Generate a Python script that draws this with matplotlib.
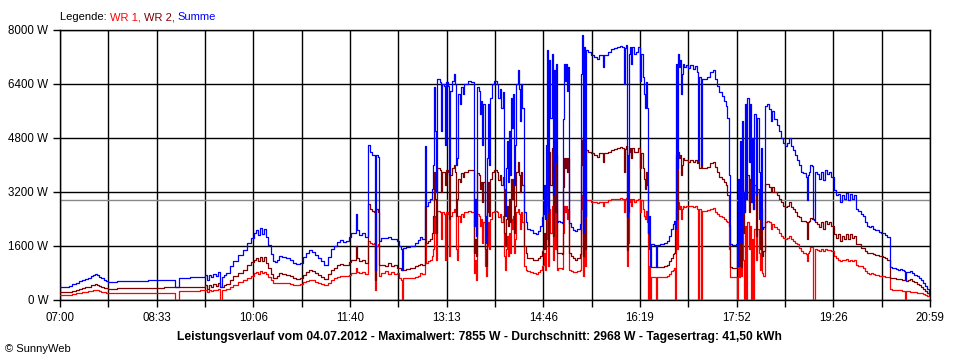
import matplotlib
matplotlib.use("Agg")
import matplotlib.pyplot as plt
import numpy as np

# minutes after 07:00
minutes = [
    0, 6, 9, 12, 15, 18, 21, 24, 27, 30,
    32, 34, 36, 38, 40, 42, 44, 46, 50, 55,
    60, 65, 70, 75, 80, 85, 90, 95, 100, 105,
    111, 115, 120, 125, 130, 135, 140,
    142, 144, 146, 148, 150, 152, 154, 156, 158, 160,
    164, 167, 172, 176, 180, 184, 187, 189, 191, 193,
    195, 197, 199, 201, 203, 205, 207, 209, 211, 214,
    218, 222, 225, 228, 231, 234, 237, 240,
    243, 246, 249, 252, 255, 258, 261, 264, 267, 270,
    273, 276, 279, 281, 284, 285, 286, 288, 291, 294,
    297, 299, 301, 303, 304, 305, 307, 308, 310, 313,
    316, 319, 322, 325, 327, 329, 330, 331, 334, 338,
    342, 345, 347, 349, 352, 353, 355, 357, 359, 360,
    361,
    362, 363, 364, 366, 367, 368, 370, 371, 372, 374,
    375, 376, 378, 380, 381, 382, 383, 384, 386, 387,
    389, 390, 393, 396, 399, 400, 401, 402, 404, 405,
    406, 407, 408, 410, 411, 412, 413, 414, 415, 417,
    419, 421, 422, 424, 425, 427, 428, 429, 430, 431,
    432, 433, 434, 435, 436, 437, 438, 439, 440, 442,
    443, 444, 445, 446, 447, 449, 450, 453, 456, 459,
    461, 463, 465, 466, 467, 468, 469, 470, 471, 472,
    473, 474, 475, 476, 477, 478, 479, 480,
    482, 484, 485, 486, 487, 488, 489, 490, 491, 493,
    495, 497, 499, 501, 502, 503, 504, 505, 506, 507,
    509, 512, 515, 518, 520, 523, 524, 525, 528, 531,
    534, 537, 540, 542, 544, 545, 546, 547, 548, 549,
    550, 551, 552, 554, 555, 557, 559, 560, 562, 563,
    564, 565, 566, 567, 568, 569, 570, 573, 575, 576,
    579, 582, 585, 587, 589, 591, 592, 593, 594, 595,
    596, 597, 598, 599, 600, 601, 602,
    604, 606, 608, 610, 612, 614, 615, 616, 618, 619,
    621, 624, 627, 630, 632, 634, 636, 638, 640, 642,
    643, 645, 646, 648, 650, 652, 653, 654, 655, 656,
    657, 658, 659, 660, 661, 662, 663, 664, 665, 666,
    667, 668, 669, 671, 672, 674, 675, 676, 677, 678,
    680, 682, 684, 686, 687, 689, 691, 693, 695, 697,
    699, 701, 703, 705, 707, 709, 711, 713, 715, 717,
    719, 720, 721, 722,
    723, 725, 726, 727, 728, 730, 732, 734, 736, 738,
    740, 742, 744, 746, 748, 750, 752, 754, 756, 758,
    760, 762, 764, 766, 768, 770, 772, 774, 776, 778,
    780, 782, 784, 786, 788, 790, 792, 794, 796, 798,
    800, 802, 804, 806, 808, 810, 812, 814, 815, 816,
    818, 820, 822, 824, 826, 828, 830, 832, 834, 836,
    838, 839,
]

wr1 = [
    150, 150, 160, 190, 200, 220, 240, 250, 260, 280,
    295, 300, 290, 260, 250, 230, 210, 200, 195, 200,
    200, 200, 200, 200, 205, 215, 215, 215, 220, 220,
    0, 265, 270, 275, 280, 285, 300,
    250, 300, 280, 310, 290, 320, 0, 290, 310, 330,
    400, 450, 520, 580, 650, 720, 790, 830, 770, 850,
    790, 840, 760, 680, 580, 510, 500, 500, 510, 500,
    500, 480, 450, 440, 460, 520, 570, 590,
    580, 540, 500, 470, 430, 500, 600, 650, 690, 710,
    700, 700, 750, 790, 800, 950, 820, 790, 820, 780,
    1750, 1700, 1650, 1700, 300, 1600, 1650, 700, 800, 850,
    780, 820, 760, 800, 650, 600, 0, 640, 640, 650,
    680, 720, 800, 760, 1750, 1100, 1150, 1200, 1300, 1500,
    2500,
    2000, 1200, 2650, 2600, 1800, 2600, 2550, 1200, 2600, 2550,
    1300, 2500, 2600, 2700, 2600, 1500, 1200, 2500, 2300, 2550,
    2450, 2600, 2650, 2600, 800, 1200, 600, 2550, 2500, 2200,
    2400, 1700, 2300, 1000, 700, 1600, 2300, 1500, 2400, 2600,
    2650, 2600, 2450, 2550, 2300, 2500, 1300, 900, 1500, 1900,
    1300, 2000, 1400, 2400, 2100, 2500, 1400, 1800, 2600, 2700,
    2550, 2100, 2600, 2300, 1000, 900, 850, 840, 800, 780,
    820, 900, 1000, 1050, 1400, 900, 1800, 2800, 1000, 2700,
    2000, 2800, 1200, 2600, 1500, 2700, 900, 950,
    940, 920, 2000, 2800, 2600, 2800, 2400, 2700, 900, 860,
    840, 830, 850, 900, 2700, 3105, 700, 3000, 1000, 2950,
    2950, 2900, 2900, 2880, 2900, 2900, 2800, 2900, 2950, 2980,
    3000, 3000, 3010, 3000, 2600, 3000, 3020, 1000, 1700, 2900,
    3000, 2800, 3000, 2900, 2950, 3000, 2600, 2950, 2700, 2500,
    2400, 2650, 2300, 0, 1000, 0, 680, 672, 0, 672,
    680, 690, 700, 760, 850, 900, 950, 0, 2700, 1500,
    2900, 2700, 2800, 2400, 2700, 2800, 2750,
    2800, 2780, 2800, 2750, 2780, 2700, 0, 2700, 0, 2650,
    2650, 2660, 2700, 2720, 2600, 2550, 2500, 2450, 2400, 2350,
    2300, 1500, 690, 680, 680, 690, 0, 1300, 690, 1800,
    700, 2000, 1200, 0, 2200, 0, 2300, 1500, 2200, 0,
    1800, 0, 2100, 1200, 2100, 1400, 900, 1800, 800, 700,
    2300, 2350, 2300, 2100, 2250, 2150, 2100, 2000, 1900, 1850,
    1800, 1850, 1900, 1800, 1750, 1700, 1650, 1550, 1450, 1400,
    1350, 1150, 1400, 1450,
    1580, 1560, 0, 0, 1500, 1480, 1450, 1500, 1460, 1500,
    1470, 1480, 1450, 1300, 1250, 1200, 1150, 1200, 1180, 1220,
    1150, 1200, 1150, 1200, 1050, 1000, 1000, 950, 850, 800,
    780, 800, 760, 750, 740, 720, 700, 700, 690, 680,
    320, 310, 300, 300, 290, 290, 280, 270, 0, 260,
    260, 250, 240, 230, 220, 210, 200, 180, 150, 130,
    110, 100,
]

wr2 = [
    230, 230, 250, 280, 300, 330, 360, 380, 400, 430,
    455, 470, 450, 420, 400, 370, 350, 340, 340, 350,
    355, 360, 360, 365, 360, 365, 370, 370, 375, 380,
    390, 395, 395, 395, 400, 400, 430,
    340, 440, 400, 470, 420, 500, 400, 400, 430, 480,
    600, 700, 800, 900, 1030, 1130, 1200, 1250, 1150, 1280,
    1170, 1260, 1100, 950, 780, 660, 640, 700, 790, 760,
    740, 720, 640, 620, 650, 740, 830, 880,
    850, 800, 740, 680, 610, 760, 900, 950, 1040, 1080,
    1030, 1040, 1120, 1185, 1200, 1600, 1250, 1150, 1180, 1100,
    2850, 2700, 2650, 2600, 590, 2700, 2600, 1050, 1050, 1000,
    1100, 1000, 1050, 950, 950, 900, 900, 900, 930, 950,
    1000, 1050, 1080, 1040, 2800, 1700, 1750, 1800, 2000, 2500,
    3800,
    3000, 2000, 3900, 3850, 3200, 3800, 3800, 3400, 3850, 3800,
    2400, 3700, 3900, 4000, 3800, 2500, 3000, 3600, 3500, 3750,
    3650, 3800, 3850, 3850, 1400, 1800, 1300, 3750, 3700, 3300,
    3500, 2900, 3500, 1500, 1000, 2600, 3500, 2500, 3600, 3800,
    3850, 3800, 3550, 3700, 3400, 3650, 2000, 1600, 2400, 2800,
    2200, 3000, 2300, 3600, 3000, 3600, 2000, 2800, 3800, 4100,
    3700, 3200, 3800, 3400, 1600, 1400, 1250, 1230, 1200, 1180,
    1230, 1300, 1450, 1500, 2000, 1500, 2800, 4600, 1600, 4400,
    3400, 4500, 1900, 4200, 2600, 4300, 1400, 1400,
    1380, 1350, 3350, 4200, 3900, 4200, 3800, 4200, 1380, 1300,
    1230, 1200, 1250, 1350, 4000, 4750, 1300, 4500, 1500, 4450,
    4400, 4350, 4300, 4250, 4350, 4350, 4100, 4350, 4400, 4450,
    4480, 4500, 4520, 4500, 3800, 4480, 4550, 1470, 2600, 4400,
    4500, 4200, 4500, 4400, 4400, 4500, 3900, 4350, 3900, 3600,
    3300, 3800, 3400, 2000, 1500, 1000, 970, 968, 980, 968,
    980, 1000, 1050, 1150, 1250, 1350, 1400, 2100, 4300, 2400,
    4400, 4200, 4300, 3700, 4000, 4200, 4150,
    4150, 4100, 4150, 4100, 4150, 4050, 4150, 3900, 4000, 3900,
    3900, 3950, 4050, 4100, 3950, 3800, 3650, 3600, 3500, 3400,
    3100, 2200, 980, 960, 950, 960, 1000, 2300, 1000, 2900,
    980, 3300, 2000, 2600, 3600, 3000, 3700, 2600, 3600, 2900,
    3000, 2700, 3400, 1900, 3300, 2400, 1500, 2700, 1300, 1450,
    3450, 3450, 3350, 3200, 3350, 3200, 3100, 3000, 2900, 2800,
    2750, 2800, 2900, 2750, 2700, 2600, 2500, 2450, 2350, 2350,
    2300, 1800, 2300, 2350,
    2420, 2400, 2400, 2380, 2300, 2250, 2150, 2300, 2100, 2350,
    2250, 2300, 2200, 1950, 1850, 1950, 1750, 1900, 1800, 1950,
    1800, 1950, 1850, 1900, 1650, 1650, 1550, 1550, 1450, 1400,
    1380, 1400, 1350, 1330, 1320, 1300, 1300, 1280, 1250, 1200,
    660, 650, 640, 620, 610, 620, 600, 580, 580, 570,
    580, 610, 560, 520, 480, 440, 400, 330, 270, 200,
    140, 120,
]

average_w = 2968
y_ticks = [0, 1600, 3200, 4800, 6400, 8000]
time_labels = ["07:00", "08:33", "10:06", "11:40", "13:13",
               "14:46", "16:19", "17:52", "19:26", "20:59"]
title = ("Leistungsverlauf vom 04.07.2012 - Maximalwert: 7855 W - "
         "Durchschnitt: 2968 W - Tagesertrag: 41,50 kWh")

t = np.array(minutes)
summe = np.array(wr1) + np.array(wr2)

plt.rcParams['font.family'] = ['Liberation Sans', 'DejaVu Sans']

fig = plt.figure(figsize=(9.6, 3.6), dpi=100)
ax = fig.add_axes([60 / 960, 60 / 360, 870 / 960, 270 / 360])

ax.axhline(average_w, color='#888888', lw=1, zorder=2)
ax.plot(t, wr1, color='#ff0000', lw=0.9, drawstyle='steps-post', zorder=3)
ax.plot(t, wr2, color='#800000', lw=0.9, drawstyle='steps-post', zorder=3)
ax.plot(t, summe, color='#0000ff', lw=0.9, drawstyle='steps-post', zorder=3)

ax.set_xlim(0, 839)
ax.set_ylim(0, 8000)
xt = np.linspace(0, 839, 19)
ax.set_xticks(xt)
ax.set_xticklabels([time_labels[i // 2] if i % 2 == 0 else "" for i in range(19)])
ax.set_yticks(y_ticks)
ax.set_yticklabels([f"{v} W" for v in y_ticks])
ax.grid(True, color='black', lw=1, zorder=1)
ax.set_axisbelow(True)
for s in ax.spines.values():
    s.set_color('black')
    s.set_linewidth(1)
ax.tick_params(direction='out', length=5, width=1, color='black',
               labelsize=8.3, pad=3.5)

fig.text(479 / 960, 1 - 337 / 360, title, ha='center', va='center',
         fontsize=8.7, fontweight='bold')
fig.text(5 / 960, 1 - 349 / 360, "\u00a9 SunnyWeb", ha='left', va='center',
         fontsize=8)

renderer = fig.canvas.get_renderer()
x = 60 / 960
for s, c in [("Legende: ", "black"), ("WR 1, ", "#ff0000"),
             ("WR 2, ", "#800000"), ("Summe", "#0000ff")]:
    txt = fig.text(x, 1 - 17 / 360, s, color=c, fontsize=8, va='center')
    bb = txt.get_window_extent(renderer)
    x = bb.x1 / fig.bbox.width

fig.savefig("out.png", dpi=100)
